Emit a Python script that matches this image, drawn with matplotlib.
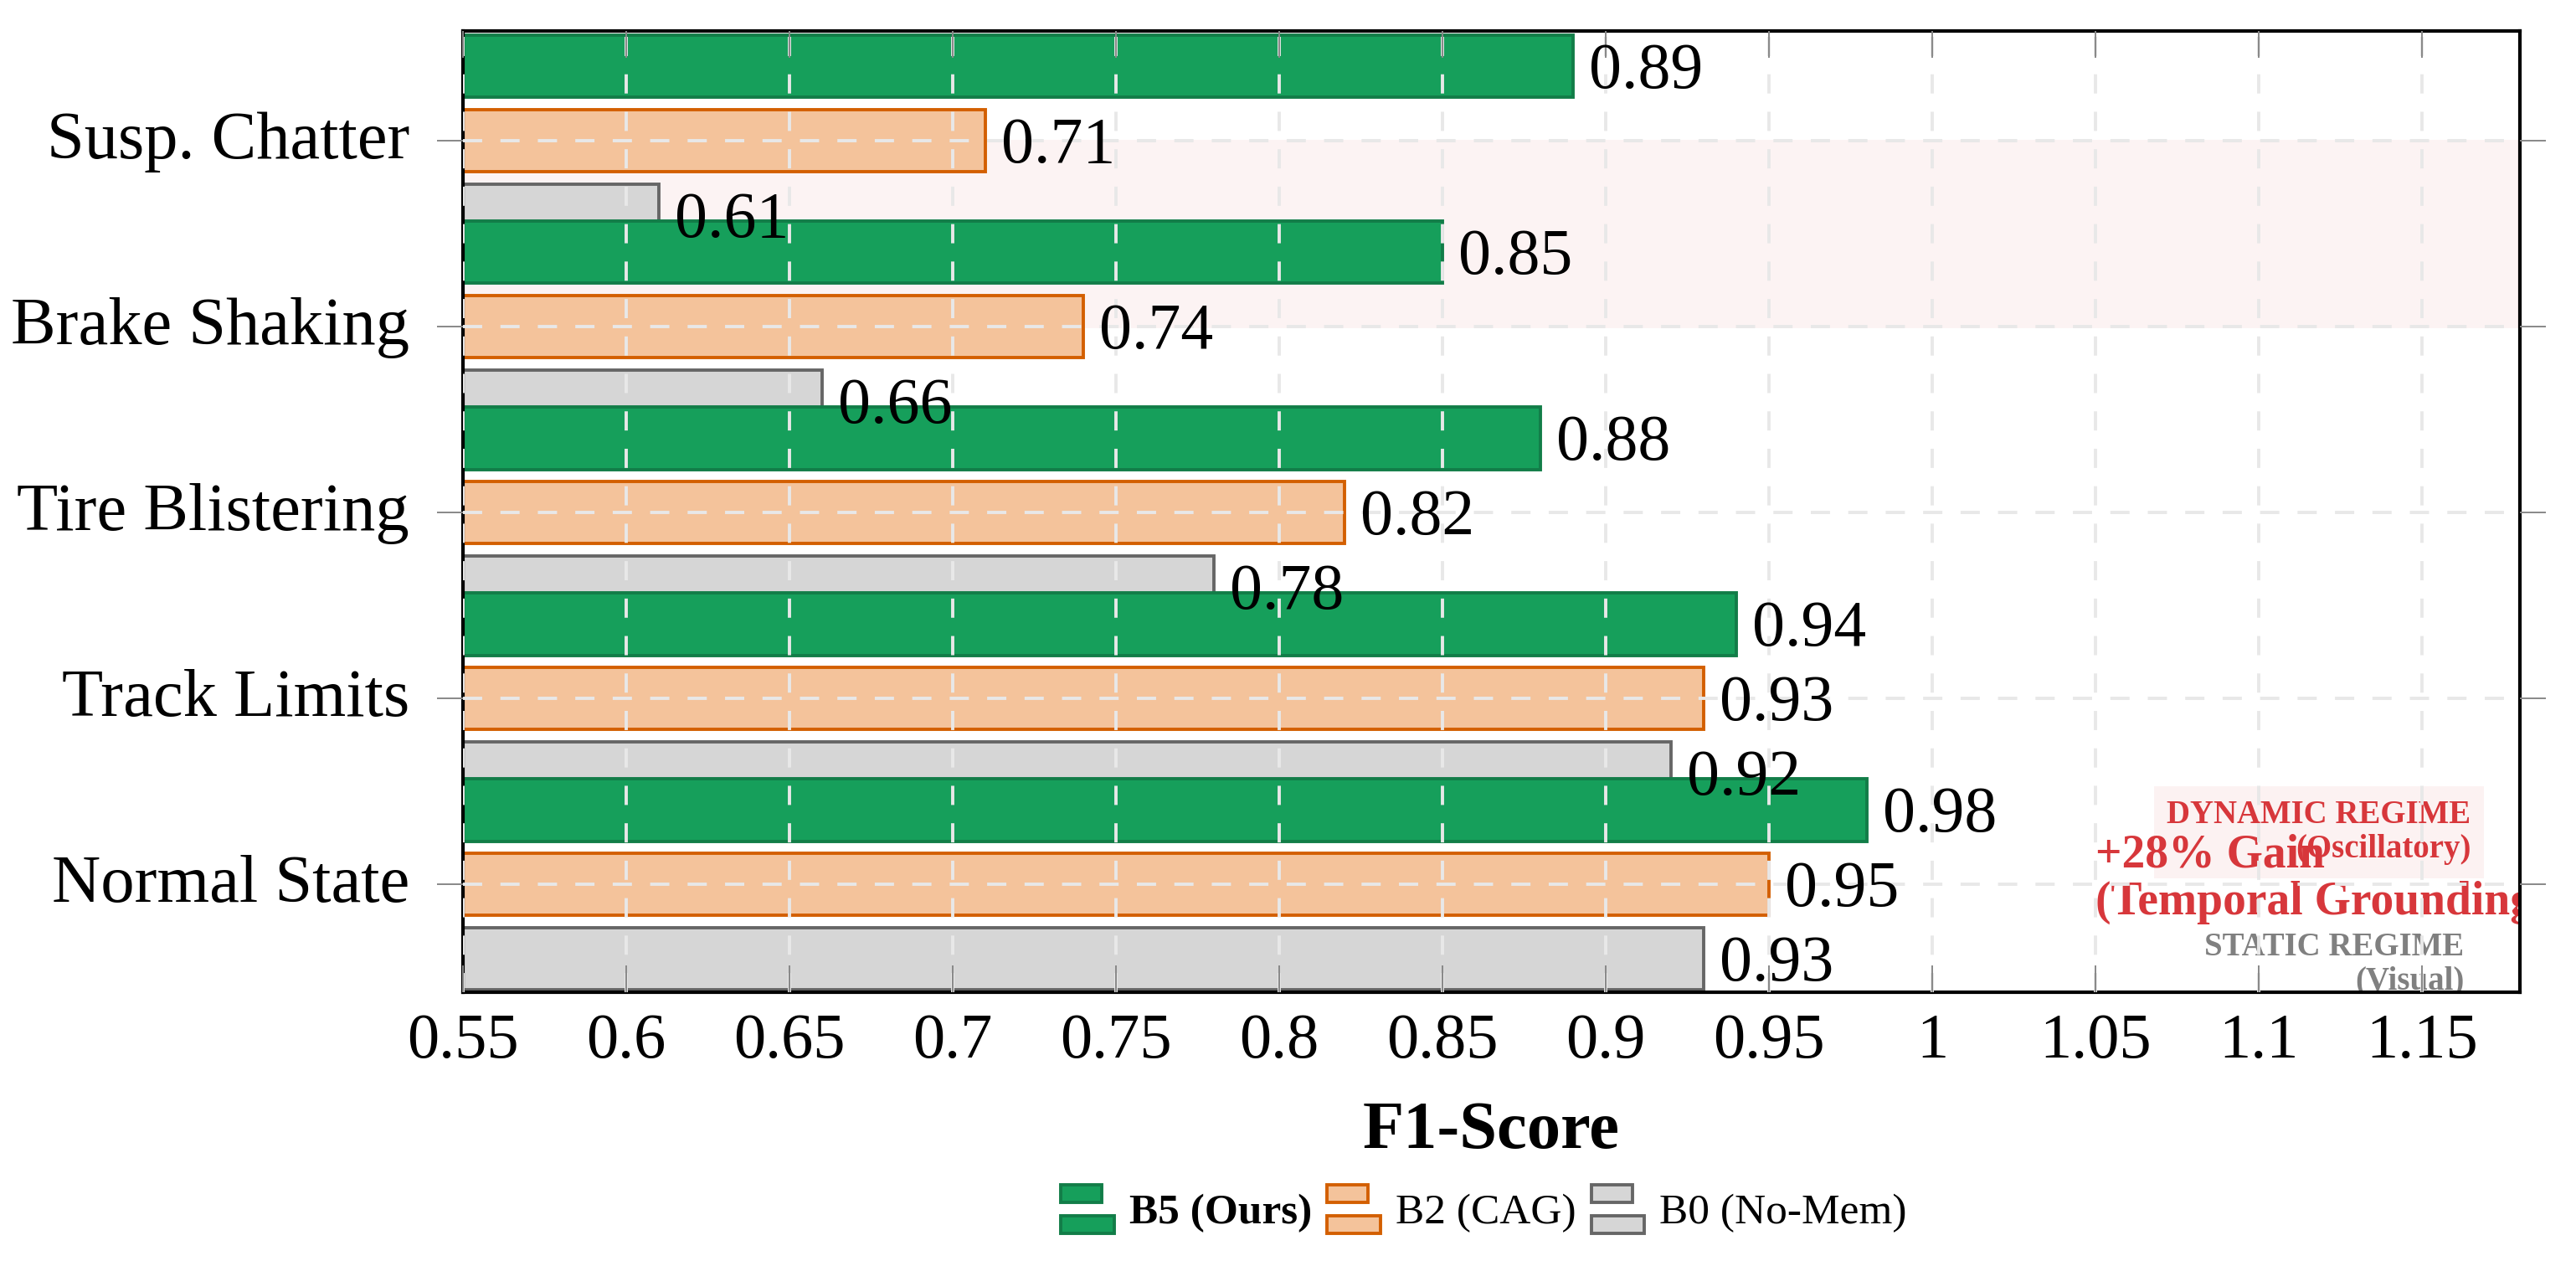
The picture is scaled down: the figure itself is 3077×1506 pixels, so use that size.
import numpy as np
import matplotlib
matplotlib.use('Agg')
import matplotlib.pyplot as plt
from matplotlib.patches import Patch, Rectangle
from matplotlib.legend_handler import HandlerBase
from matplotlib.transforms import ScaledTranslation

plt.rcParams['font.family'] = ['Liberation Serif', 'DejaVu Serif']

# data (bottom to top on the axis)
categories = ['Normal State', 'Track Limits', 'Tire Blistering', 'Brake Shaking', 'Susp. Chatter']
b5_ours = [0.98, 0.94, 0.88, 0.85, 0.89]
b2_cag = [0.95, 0.93, 0.82, 0.74, 0.71]
b0_nomem = [0.93, 0.92, 0.78, 0.66, 0.61]
series_names = ['B5 (Ours)', 'B2 (CAG)', 'B0 (No-Mem)']
x_ticks = [0.55, 0.6, 0.65, 0.7, 0.75, 0.8, 0.85, 0.9, 0.95, 1.0, 1.05, 1.1, 1.15]
dynamic_rows = (3, 4)   # Brake Shaking .. Susp. Chatter

green_fc, green_ec = '#169f5b', '#127d48'
orange_fc, orange_ec = '#f4c39b', '#d35f00'
gray_fc, gray_ec = '#d6d6d6', '#666666'
red = '#d7373b'

y = np.arange(len(categories))
bh = 0.335
off = 0.4

fig = plt.figure(figsize=(15.385, 7.53), dpi=200)
ax = fig.add_axes([0.1797, 0.2131, 0.9782 - 0.1797, 0.9754 - 0.2131])

ax.axhspan(dynamic_rows[0], dynamic_rows[1], color='#fcf3f3', zorder=0)

# gray first so green of the next group covers it
ax.barh(y - off, b0_nomem, height=bh, color=gray_fc, edgecolor=gray_ec, linewidth=1.4, zorder=1)
ax.barh(y, b2_cag, height=bh, color=orange_fc, edgecolor=orange_ec, linewidth=1.4, zorder=1)
ax.barh(y + off, b5_ours, height=bh, color=green_fc, edgecolor=green_ec, linewidth=1.4, zorder=1)

for vals, shift in [(b0_nomem, -off), (b2_cag, 0), (b5_ours, off)]:
    for yi, v in zip(y, vals):
        ax.annotate(f'{v:.2f}', (v, yi + shift), xytext=(7, -2.5), textcoords='offset points',
                    va='center', ha='left', fontsize=28, zorder=3)

ax.set_xlim(0.55, 1.18)
ax.set_ylim(-0.58, 4.59)
ax.set_xticks(x_ticks)
ax.set_xticklabels([f'{t:g}' for t in x_ticks])
ax.set_yticks(y)
ax.set_yticklabels(categories)

ax.tick_params(axis='x', direction='in', top=True, bottom=True, length=11.5, width=0.7,
               color='#888888', labelsize=27.5, pad=9)
ax.tick_params(axis='y', direction='out', left=True, right=True, length=11, width=0.7,
               color='#888888', labelsize=29, pad=12)
for lab in ax.get_yticklabels():
    lab.set_transform(lab.get_transform() + ScaledTranslation(0, 0.035, fig.dpi_scale_trans))

ax.set_axisbelow(False)
ax.grid(True, color='#e8e8e8', linewidth=1.4, linestyle=(0, (5.9, 5.6)))
for s in ax.spines.values():
    s.set_linewidth(1.5)
    s.set_color('black')

ax.set_xlabel('F1-Score', fontsize=29, fontweight='bold')
ax.xaxis.set_label_coords(0.5, -0.113)

# annotations (under the grid, clipped by the axes)
ax.text(1.165, 0.28, 'DYNAMIC REGIME\n(Oscillatory)', ha='right', va='center', multialignment='right',
        fontsize=14, fontweight='bold', color=red, zorder=2, clip_on=True, linespacing=1.15,
        bbox=dict(boxstyle='square,pad=0.4', facecolor='#fcf2f2', edgecolor='none'))
ax.text(1.05, 0.03, '+28% Gain\n(Temporal Grounding)', ha='left', va='center', multialignment='left',
        fontsize=20, fontweight='bold', color=red, zorder=2, clip_on=True, linespacing=1.1)
ax.text(1.163, -0.43, 'STATIC REGIME\n(Visual)', ha='right', va='center', multialignment='right',
        fontsize=14, fontweight='bold', color='#808080', zorder=2, clip_on=True, linespacing=1.15)


class TwoBarHandler(HandlerBase):
    def create_artists(self, legend, orig_handle, xdescent, ydescent, width, height, fontsize, trans):
        fc = orig_handle.get_facecolor()
        ec = orig_handle.get_edgecolor()
        h = height * 0.36
        top = Rectangle((-xdescent, -ydescent + height - h), width * 0.77, h,
                        facecolor=fc, edgecolor=ec, linewidth=1.4, transform=trans)
        bot = Rectangle((-xdescent, -ydescent), width, h,
                        facecolor=fc, edgecolor=ec, linewidth=1.4, transform=trans)
        return [top, bot]


handles = [Patch(facecolor=green_fc, edgecolor=green_ec),
           Patch(facecolor=orange_fc, edgecolor=orange_ec),
           Patch(facecolor=gray_fc, edgecolor=gray_ec)]
leg = fig.legend(handles, series_names, loc='center', bbox_to_anchor=(0.576, 0.041), ncol=3,
                 frameon=False, fontsize=18.5, handler_map={Patch: TwoBarHandler()},
                 handlelength=1.245, handleheight=1.36, handletextpad=0.35, columnspacing=0.35,
                 borderpad=0, borderaxespad=0)
leg.get_texts()[0].set_fontweight('bold')

fig.savefig('out.png', dpi=200)
